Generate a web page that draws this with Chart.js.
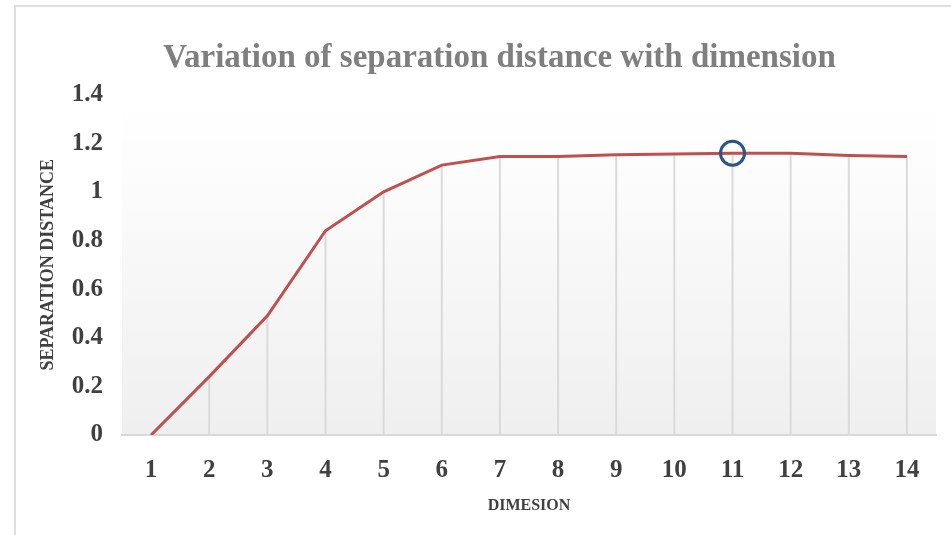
<!DOCTYPE html>
<html>
<head>
<meta charset="utf-8">
<script src="https://cdn.jsdelivr.net/npm/chart.js@4"></script>
<style>
    html, body { margin: 0; padding: 0; background: #ffffff; }
    #wrap { width: 951px; height: 535px; }
</style>
</head>
<body>
<div id="wrap"><canvas id="chart" width="951" height="535"></canvas></div>
<script>
const dimensions = ["1", "2", "3", "4", "5", "6", "7", "8", "9", "10", "11", "12", "13", "14"];
const separation = [0, 0.24, 0.49, 0.84, 1.0, 1.11, 1.145, 1.145, 1.153, 1.156, 1.159, 1.159, 1.15, 1.145];
// the hand-drawn ring sits on dimension 11
const highlight = [null, null, null, null, null, null, null, null, null, null, 1.159, null, null, null];
const yTicks = [0, 0.2, 0.4, 0.6, 0.8, 1, 1.2, 1.4];

const serif = "'Liberation Serif', 'Times New Roman', serif";

// gray frame of the picture + gradient plot background
const backdrop = {
    id: "backdrop",
    beforeDraw(chart) {
        const { ctx, chartArea } = chart;
        ctx.save();
        ctx.strokeStyle = "#dedede";
        ctx.lineWidth = 2;
        ctx.beginPath();
        ctx.moveTo(15, 535);
        ctx.lineTo(15, 6);
        ctx.lineTo(951, 6);
        ctx.stroke();

        const g = ctx.createLinearGradient(0, chartArea.top, 0, chartArea.bottom);
        g.addColorStop(0, "#ffffff");
        g.addColorStop(0.12, "#fefefe");
        g.addColorStop(1, "#efefef");
        ctx.fillStyle = g;
        ctx.fillRect(chartArea.left, chartArea.top, chartArea.right - chartArea.left, chartArea.bottom - chartArea.top);
        ctx.restore();
    }
};

new Chart(document.getElementById("chart"), {
    type: "line",
    data: {
        labels: dimensions,
        datasets: [
            {
                type: "line",
                data: highlight,
                showLine: false,
                pointRadius: 12,
                pointBorderWidth: 3,
                pointBorderColor: "#2b5588",
                pointBackgroundColor: "rgba(0,0,0,0)",
                order: 0
            },
            {
                type: "line",
                data: separation,
                borderColor: "#c0504d",
                borderWidth: 3,
                pointRadius: 0,
                tension: 0,
                order: 1
            },
            {
                // drop lines from each point to the axis
                type: "bar",
                data: separation,
                backgroundColor: "#dadada",
                barThickness: 1.3,
                order: 2
            }
        ]
    },
    options: {
        responsive: false,
        animation: false,
        // wide left padding keeps the title centred like the original
        layout: { padding: { left: 62, right: 14, top: 0, bottom: 16 } },
        plugins: {
            legend: { display: false },
            tooltip: { enabled: false },
            title: {
                display: true,
                text: "Variation of separation distance with dimension",
                color: "#7f7f7f",
                font: { family: serif, size: 33, weight: "bold" },
                padding: { top: 39, bottom: 16 }
            }
        },
        scales: {
            x: {
                offset: true,
                afterFit(scale) {
                    scale.height = 84;
                },
                grid: { display: false, drawTicks: false },
                border: { display: true, color: "#d9d9d9", width: 2 },
                ticks: {
                    color: "#404040",
                    font: { family: serif, size: 25, weight: "bold" },
                    padding: 21,
                    maxRotation: 0
                },
                title: {
                    display: true,
                    text: "DIMESION",
                    color: "#404040",
                    font: { family: serif, size: 16, weight: "bold" },
                    padding: { top: 0, bottom: 4 }
                }
            },
            y: {
                min: 0,
                max: 1.4,
                afterBuildTicks(scale) {
                    scale.ticks = yTicks.map(v => ({ value: v }));
                },
                afterFit(scale) {
                    scale.width = 60;
                },
                grid: { display: false, drawTicks: false },
                border: { display: false },
                ticks: {
                    color: "#404040",
                    font: { family: serif, size: 25, weight: "bold" },
                    padding: 19,
                    callback: v => String(v)
                },
                title: {
                    display: true,
                    text: "SEPARATION DISTANCE",
                    color: "#404040",
                    font: { family: serif, size: 18, weight: "bold" },
                    padding: { top: -24.8, bottom: 0 }
                }
            }
        }
    },
    plugins: [backdrop]
});
</script>
</body>
</html>
